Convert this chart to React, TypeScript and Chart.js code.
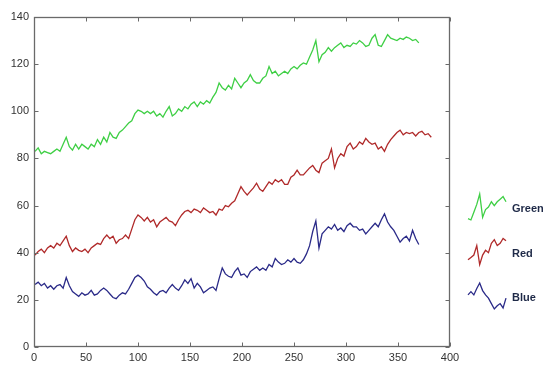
import React, { useEffect, useRef } from "react";
import { Chart, registerables } from "chart.js";

Chart.register(...registerables);

// sample positions along the x axis
const sampleX = [
  1, 4, 7, 10, 13, 16, 19, 22, 25, 28, 31, 34, 37, 40, 43, 46, 49, 52, 55, 58,
  61, 64, 67, 70, 73, 76, 79, 82, 85, 88, 91, 94, 97, 100, 103, 106, 109, 112, 115, 118,
  121, 124, 127, 130, 133, 136, 139, 142, 145, 148, 151, 154, 157, 160, 163, 166, 169, 172, 175, 178,
  181, 184, 187, 190, 193, 196, 199, 202, 205, 208, 211, 214, 217, 220, 223, 226, 229, 232, 235, 238,
  241, 244, 247, 250, 253, 256, 259, 262, 265, 268, 271, 274, 277, 280, 283, 286, 289, 292, 295, 298,
  301, 304, 307, 310, 313, 316, 319, 322, 325, 328, 331, 334, 337, 340, 343, 346, 349, 352, 355, 358,
  361, 364, 367, 370, 373, 376, 379, 382,
];

const greenValues = [
  83, 84.5, 82, 83, 82.5, 82, 83, 84, 83, 86,
  89, 85, 83.5, 86, 84, 86, 85, 84, 86, 85,
  88, 86, 89, 87, 91, 89, 88.5, 91, 92, 93.5,
  95, 96, 99, 100.5, 100, 99, 100, 99, 100, 98,
  99, 97.5, 100, 102, 98, 99, 101, 100, 102, 101,
  103, 104, 102, 104, 103, 104.5, 103.5, 106, 108, 112,
  110, 109, 111, 109.5, 114, 112, 110, 112, 113, 115.5,
  113, 112, 112, 114, 115, 119, 116, 117, 115, 116,
  117, 116, 118, 119, 118, 119.5, 120.5, 120, 123, 126,
  130, 121, 124, 125, 127, 125.5, 127, 128, 129, 127,
  128, 127.5, 129, 128.5, 130, 129, 127.5, 128, 131, 132.5,
  128, 127.5, 130, 132.5, 131, 130.5, 130, 131, 130.5, 131.5,
  131, 130, 130.5, 129,
];

const redValues = [
  39, 40.5, 41.5, 40, 42, 43, 42, 44, 43, 45,
  47, 43, 40.5, 42, 41, 40.5, 41.5, 40, 42, 43,
  44, 43.5, 46, 47.5, 46, 47, 44, 45.5, 46, 47.5,
  46, 50, 54, 56, 55, 53.5, 55, 53, 54, 51,
  53, 54, 55, 53.5, 53, 51.5, 54, 56, 57.5, 58,
  57, 58.5, 58, 57, 59, 58, 57, 57.5, 56, 58.5,
  58, 60, 59.5, 61, 62, 65, 68, 66, 64.5, 66,
  67.5, 69.5, 67, 66, 68, 70, 69, 71, 70, 71,
  69, 69, 72, 73, 75, 73, 73, 74.5, 76, 77,
  75, 74, 78, 79, 80, 84, 76, 80, 82, 81,
  85, 86.5, 84, 85, 87, 86, 88.5, 87, 86, 86.5,
  84, 85, 83, 86, 88, 89.5, 91, 92, 90, 91,
  90.5, 91, 89.5, 91, 91.5, 90, 90.5, 89,
];

const blueValues = [
  26.5, 27.5, 26, 27, 25, 26, 24.5, 26, 26.5, 25,
  29.5, 26, 23.5, 22.5, 21.5, 23, 22, 22.5, 24, 22,
  22.5, 24, 25, 24, 22.5, 21, 20.5, 22, 23, 22.5,
  24.5, 27, 29.5, 30.5, 29.5, 28, 25.5, 24.5, 23, 22,
  23.5, 24, 23, 25, 26.5, 25, 24, 26, 28.5, 27,
  29, 25, 27, 25.5, 23, 24, 25, 25.5, 24, 29,
  33.5, 31, 30, 29.5, 32, 33.5, 30.5, 31, 29.5, 32,
  33, 34, 32.5, 33.5, 32.5, 35, 34, 37.5, 36, 35,
  35.5, 37, 36, 37.5, 36, 35.5, 37, 39.5, 43, 49,
  53.5, 42, 48, 49.5, 51, 50, 52, 49.5, 50.5, 49,
  51.5, 52.5, 51, 51, 49.5, 50, 48, 49.5, 51, 52.5,
  51, 54, 56.5, 53, 51, 49.5, 47, 44.5, 46, 47,
  45, 49.5, 46, 43.5,
];

const seriesNames = ["Green", "Red", "Blue"];
const xTickValues = [0, 50, 100, 150, 200, 250, 300, 350, 400];
const yTickValues = [0, 20, 40, 60, 80, 100, 120, 140];

const COLORS = ["#3fcf45", "#b02a2a", "#2a2a88"];
const FONT = "'Liberation Sans', Arial, sans-serif";

const toPoints = (vals: number[]) => vals.map((v, i) => ({ x: sampleX[i], y: v }));

const framePlugin = {
  id: "matlabFrame",
  afterDatasetsDraw(chart: any) {
    const { ctx, chartArea: a, scales } = chart;
    const L = Math.round(a.left) + 0.5;
    const R = Math.round(a.right) - 0.5;
    const T = Math.round(a.top) + 0.5;
    const B = Math.round(a.bottom) - 0.5;
    ctx.save();
    ctx.strokeStyle = "#6a6a6a";
    ctx.lineWidth = 1.3;
    ctx.strokeRect(L, T, R - L, B - T);
    ctx.lineWidth = 1;
    ctx.beginPath();
    const tl = 4;
    xTickValues.forEach((v) => {
      const px = Math.round(scales.x.getPixelForValue(v)) + 0.5;
      ctx.moveTo(px, B);
      ctx.lineTo(px, B - tl);
      ctx.moveTo(px, T);
      ctx.lineTo(px, T + tl);
    });
    yTickValues.forEach((v) => {
      const py = Math.round(scales.y.getPixelForValue(v)) + 0.5;
      ctx.moveTo(L, py);
      ctx.lineTo(L + tl, py);
      ctx.moveTo(R, py);
      ctx.lineTo(R - tl, py);
    });
    ctx.stroke();
    ctx.restore();
  },
  afterDraw(chart: any) {
    const { ctx, chartArea: a } = chart;
    const glyphW = 38;
    const glyphH = 26;
    const x0 = a.right + 18;
    const starts = [86, 92, 108];
    chart.data.datasets.forEach((ds: any, i: number) => {
      const cy = a.top + 190 + i * 44.5;
      const vals: number[] = ds.data.slice(starts[i], starts[i] + 14).map((p: any) => p.y);
      const mn = Math.min(...vals);
      const mx = Math.max(...vals);
      ctx.save();
      ctx.strokeStyle = ds.borderColor;
      ctx.lineWidth = 1.3;
      ctx.beginPath();
      vals.forEach((v, k) => {
        const gx = x0 + (k / (vals.length - 1)) * glyphW;
        const gy = cy + glyphH / 2 - ((v - mn) / (mx - mn || 1)) * glyphH;
        if (k === 0) ctx.moveTo(gx, gy);
        else ctx.lineTo(gx, gy);
      });
      ctx.stroke();
      ctx.fillStyle = "#1f2a48";
      ctx.font = `bold 11px ${FONT}`;
      ctx.textBaseline = "middle";
      ctx.textAlign = "left";
      ctx.fillText(ds.label, x0 + glyphW + 6, cy + 2);
      ctx.restore();
    });
  },
};

export default function App() {
  const canvasRef = useRef<HTMLCanvasElement | null>(null);

  useEffect(() => {
    document.body.style.margin = "0";
    const canvas = canvasRef.current;
    if (!canvas) return;
    const allSeries = [greenValues, redValues, blueValues];
    const chart = new Chart(canvas, {
      type: "line",
      data: {
        datasets: allSeries.map((vals, i) => ({
          label: seriesNames[i],
          data: toPoints(vals),
          borderColor: COLORS[i],
          backgroundColor: COLORS[i],
          borderWidth: 1.3,
          pointRadius: 0,
          tension: 0,
          fill: false,
        })),
      },
      options: {
        responsive: false,
        animation: false,
        devicePixelRatio: 1,
        layout: { padding: { top: 17, right: 93, left: 0, bottom: 0 } },
        plugins: { legend: { display: false }, tooltip: { enabled: false } },
        scales: {
          x: {
            type: "linear",
            min: 0,
            max: 400,
            afterBuildTicks: (s: any) => {
              s.ticks = xTickValues.map((v) => ({ value: v }));
            },
            afterFit: (s: any) => {
              s.height = 18;
            },
            grid: { display: false, drawTicks: false },
            border: { display: false },
            ticks: {
              padding: 4,
              color: "#333",
              font: { family: FONT, size: 11 },
              maxRotation: 0,
              autoSkip: false,
            },
          },
          y: {
            type: "linear",
            min: 0,
            max: 140,
            afterBuildTicks: (s: any) => {
              s.ticks = yTickValues.map((v) => ({ value: v }));
            },
            afterFit: (s: any) => {
              s.width = 34;
            },
            grid: { display: false, drawTicks: false },
            border: { display: false },
            ticks: {
              padding: 5,
              color: "#333",
              font: { family: FONT, size: 11 },
              autoSkip: false,
            },
          },
        },
      },
      plugins: [framePlugin],
    });
    return () => chart.destroy();
  }, []);

  return (
    <div style={{ position: "absolute", left: 0, top: 0, width: 543, height: 365, background: "#fff" }}>
      <canvas ref={canvasRef} width={543} height={365} style={{ width: 543, height: 365, display: "block" }} />
    </div>
  );
}
